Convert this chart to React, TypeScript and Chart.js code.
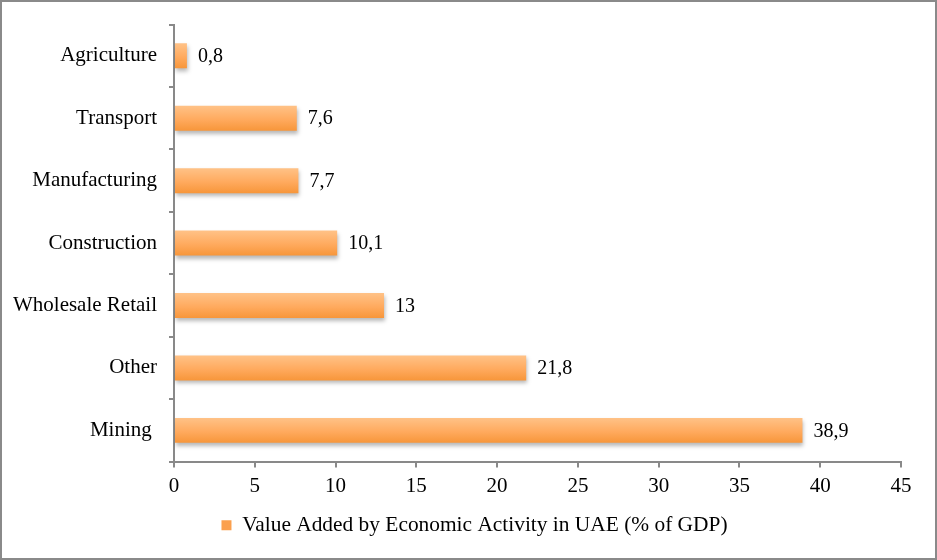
import React, { useEffect, useRef } from "react";
import { Chart, registerables } from "chart.js";

Chart.register(...registerables);

const categories = ["Agriculture", "Transport", "Manufacturing", "Construction", "Wholesale Retail", "Other", "Mining "];
const values = [0.8, 7.6, 7.7, 10.1, 13, 21.8, 38.9];
const valueLabels = ["0,8", "7,6", "7,7", "10,1", "13", "21,8", "38,9"];
const seriesName = "Value Added by Economic Activity in UAE (% of GDP)";
const xTicks = [0, 5, 10, 15, 20, 25, 30, 35, 40, 45];

const FONT = "'Liberation Serif', 'Times New Roman', serif";
const AXIS = "#898989";

export default function App() {
  const ref = useRef<HTMLCanvasElement | null>(null);

  useEffect(() => {
    document.body.style.margin = "0";
    const canvas = ref.current!;
    const gradPlugin = {
      id: "gradBars",
      afterLayout(chart: any) {
        const l = chart.legend;
        if (l) {
          l.left += 24;
          l.right += 24;
          if (l.legendHitBoxes) l.legendHitBoxes.forEach((h: any) => (h.left += 24));
        }
      },
      beforeDatasetsDraw(chart: any) {
        const ctx = chart.ctx;
        const meta = chart.getDatasetMeta(0);
        meta.data.forEach((el: any) => {
          const top = el.y - el.height / 2;
          const bot = el.y + el.height / 2;
          const g = ctx.createLinearGradient(0, top, 0, bot);
          g.addColorStop(0, "#FFC287");
          g.addColorStop(0.55, "#FFAA5E");
          g.addColorStop(1, "#F7963A");
          el.options = { ...el.options, backgroundColor: g };
        });
        ctx.save();
        ctx.shadowColor = "rgba(0,0,0,0.28)";
        ctx.shadowBlur = 4;
        ctx.shadowOffsetX = 1;
        ctx.shadowOffsetY = 3;
      },
      afterDatasetsDraw(chart: any) {
        const ctx = chart.ctx;
        ctx.restore();
        const meta = chart.getDatasetMeta(0);
        ctx.save();
        ctx.font = "20px " + FONT;
        ctx.fillStyle = "#000";
        ctx.textBaseline = "middle";
        ctx.textAlign = "left";
        meta.data.forEach((el: any, i: number) => {
          ctx.fillText(valueLabels[i], el.x + 11, el.y + 1);
        });
        ctx.restore();
      },
    };

    const chart = new Chart(canvas, {
      type: "bar",
      data: {
        labels: categories,
        datasets: [
          {
            label: seriesName,
            data: values,
            backgroundColor: (c: any) => "#FBA04E",
            borderWidth: 0,
            barPercentage: 1,
            categoryPercentage: 0.4,
          },
        ],
      },
      options: {
        indexAxis: "y",
        animation: false,
        responsive: false,
        devicePixelRatio: 1,
        layout: { padding: { top: 24, right: 36, bottom: 14, left: 0 } },
        scales: {
          x: {
            min: 0,
            max: 45,
            afterBuildTicks(scale: any) {
              scale.ticks = xTicks.map((v) => ({ value: v }));
            },
            afterFit(scale: any) {
              scale.height = 43;
            },
            border: { display: true, color: AXIS, width: 2 },
            grid: { display: true, drawOnChartArea: false, drawTicks: true, tickLength: 6, color: AXIS, lineWidth: 2 },
            ticks: { color: "#000", font: { family: FONT, size: 21 }, padding: 6, maxRotation: 0 },
          },
          y: {
            afterFit(scale: any) {
              scale.width = 174;
            },
            border: { display: true, color: AXIS, width: 2 },
            grid: { display: true, offset: true, drawOnChartArea: false, drawTicks: true, tickLength: 5, color: AXIS, lineWidth: 2 },
            ticks: { color: "#000", font: { family: FONT, size: 21 }, padding: 12 },
          },
        },
        plugins: {
          legend: {
            display: true,
            position: "bottom",
            labels: {
              color: "#000",
              font: { family: FONT, size: 21.4 },
              boxWidth: 10,
              boxHeight: 10,
              padding: 10,
              generateLabels: () => [
                {
                  text: seriesName,
                  fillStyle: "#FBA04E",
                  strokeStyle: "#FBA04E",
                  lineWidth: 0,
                  datasetIndex: 0,
                  hidden: false,
                } as any,
              ],
            },
          },
          tooltip: { enabled: false },
        },
      },
      plugins: [gradPlugin],
    } as any);
    return () => chart.destroy();
  }, []);

  return (
    <div style={{ position: "fixed", left: 0, top: 0, width: 937, height: 560, background: "#fff" }}>
      <canvas ref={ref} width={937} height={560} style={{ position: "absolute", left: 0, top: 0 }} />
      <div
        style={{
          position: "absolute",
          left: 0,
          top: 0,
          width: 937,
          height: 560,
          boxSizing: "border-box",
          border: "2px solid #8a8a8a",
          pointerEvents: "none",
        }}
      />
    </div>
  );
}
